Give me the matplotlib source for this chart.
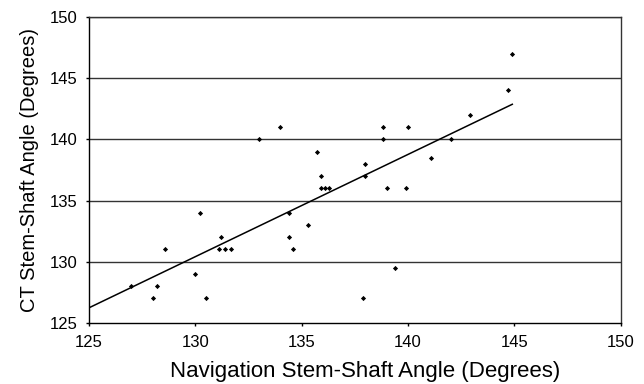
import numpy as np
import matplotlib
matplotlib.use('Agg')
import matplotlib.pyplot as plt

plt.rcParams['font.family'] = ['Liberation Sans', 'DejaVu Sans']

# navigation vs CT stem-shaft angle (degrees)
nav_angle = [127.0, 128.0, 128.2, 128.6, 130.0, 130.2, 130.5, 131.2, 131.1, 131.4,
             131.7, 133.0, 134.0, 134.4, 134.4, 134.6, 135.3, 135.7, 135.9, 135.9,
             136.1, 136.3, 144.9, 144.7, 142.9, 138.8, 140.0, 138.8, 142.0, 141.1,
             138.0, 138.0, 139.0, 139.9, 139.4, 137.9]
ct_angle = [128, 127, 128, 131, 129, 134, 127, 132, 131, 131,
            131, 140, 141, 134, 132, 131, 133, 139, 137, 136,
            136, 136, 147, 144, 142, 141, 141, 140, 140, 138.5,
            138, 137, 136, 136, 129.5, 127]

nav_angle = np.array(nav_angle)
ct_angle = np.array(ct_angle)

fig = plt.figure(figsize=(6.44, 3.84), dpi=100)
ax = fig.add_axes([0.138, 0.159, 0.826, 0.797])

for yv in [130, 135, 140, 145, 150]:
    ax.axhline(yv, color='#333333', linewidth=1.0, zorder=1)

ax.scatter(nav_angle, ct_angle, marker='D', s=7, color='black', linewidths=0, zorder=3)

# linear trend line
slope, icpt = np.polyfit(nav_angle, ct_angle, 1)
xs = np.array([125, nav_angle.max()])
ax.plot(xs, slope * xs + icpt, color='black', linewidth=1.1, zorder=2)

ax.set_xlim(125, 150)
ax.set_ylim(125, 150)
ax.set_xticks(np.arange(125, 151, 5))
ax.set_yticks(np.arange(125, 151, 5))
ax.tick_params(direction='out', length=2.5, width=1, labelsize=12)
ax.tick_params(axis='x', pad=6)
ax.tick_params(axis='y', pad=5.5)
for s in ax.spines.values():
    s.set_linewidth(1.0)
ax.spines['top'].set_color('#333333')
ax.spines['right'].set_color('#333333')

ax.set_xlabel('Navigation Stem-Shaft Angle (Degrees)', fontsize=16, labelpad=8)
ax.xaxis.label.set_x(0.52)
ax.set_ylabel('CT Stem-Shaft Angle (Degrees)', fontsize=14.5, labelpad=8)

fig.savefig('out.png', dpi=100)
